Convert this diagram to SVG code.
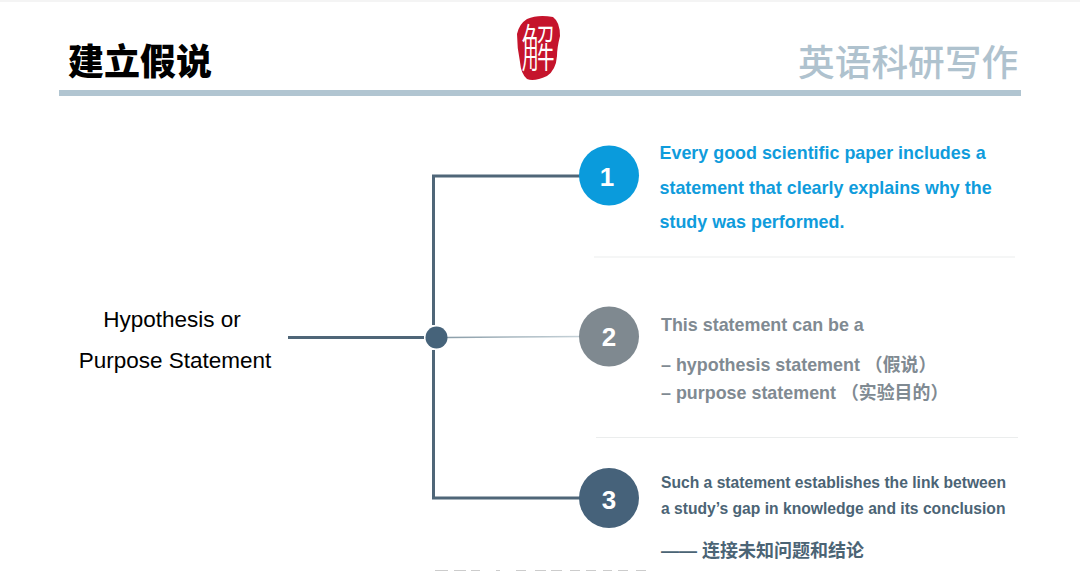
<svg xmlns="http://www.w3.org/2000/svg" width="1080" height="571" viewBox="0 0 1080 571">
<style>
text{font-family:"Liberation Sans","Noto Sans CJK SC",sans-serif}
.cjk{font-family:"Noto Sans CJK SC",sans-serif}
.num{font-size:26px;font-weight:700;fill:#fff;text-anchor:middle}
.blue{font-size:17.9px;fill:#0f9cdc;font-weight:700}
.grey{font-size:17.9px;fill:#808a92;font-weight:700}
.dark{font-size:15.65px;fill:#4b6475;font-weight:700}
.main{font-size:22.5px;fill:#000;text-anchor:middle}
.conn{fill:none;stroke:#4f6678;stroke-width:3}
.rule{stroke:#ebeded;stroke-width:1.2}
</style>
<defs>
<linearGradient id="thin" x1="0" x2="1" y1="0" y2="0"><stop offset="0" stop-color="#8b9ea9"/><stop offset="1" stop-color="#c8d4da"/></linearGradient>
</defs>
<rect width="1080" height="571" fill="#fff"/>
<rect width="1080" height="2" fill="#f4f4f4"/>
<g id="header">
<text class="cjk" x="68" y="75" font-size="36" font-weight="900" fill="#000">建立假说</text>
<text class="cjk" x="798" y="76" font-size="36.7" font-weight="500" fill="#afc2ce">英语科研写作</text>
<rect x="59" y="90" width="962" height="6" fill="#b1c5d1"/>
</g>
<g id="seal">
<path d="M527 19 Q538 14 553 17 Q560 22 560 36 Q557 48 557 56 Q556 70 547 76 Q534 82 527 79 Q521 74 520 62 Q517 48 517 34 Q519 24 527 19Z" fill="#c5142c"/>
<text class="cjk" x="0" y="0" font-size="34" font-weight="300" fill="#fff" text-anchor="middle" transform="translate(538 67) scale(1 1.5)">解</text>
</g>
<g id="connectors">
<path class="conn" d="M288 337.500H424"/>
<path class="conn" d="M433.500 325V176H585"/>
<path class="conn" d="M433.500 350V498H585"/>
<path d="M447 337.500L585 336.500" stroke="url(#thin)" stroke-width="1.500" fill="none"/>
</g>
<g id="hub"><circle cx="436.500" cy="337.500" r="11" fill="#46637a"/></g>
<g id="source">
<text class="main" x="172" y="327">Hypothesis or</text>
<text class="main" x="175" y="368">Purpose Statement</text>
</g>
<g id="node1">
<circle cx="609" cy="175.500" r="30" fill="#0a9bdc"/>
<text class="num" x="607" y="186">1</text>
<text class="blue" x="659.500" y="159">Every good scientific paper includes a</text>
<text class="blue" x="659.500" y="194">statement that clearly explains why the</text>
<text class="blue" x="659.500" y="228">study was performed.</text>
</g>
<line class="rule" x1="594" y1="257" x2="1015" y2="257"/>
<g id="node2">
<circle cx="609" cy="336.500" r="30" fill="#7f8990"/>
<text class="num" x="609" y="346">2</text>
<text class="grey" x="661" y="331">This statement can be a</text>
<text class="grey" x="661" y="371">– hypothesis statement （假说）</text>
<text class="grey" x="661" y="399">– purpose statement （实验目的）</text>
</g>
<line class="rule" x1="596" y1="437.500" x2="1018" y2="437.500"/>
<g id="node3">
<circle cx="609" cy="498" r="30" fill="#46627a"/>
<text class="num" x="609" y="509">3</text>
<text class="dark" x="661" y="488">Such a statement establishes the link between</text>
<text class="dark" x="661" y="514">a study’s gap in knowledge and its conclusion</text>
<text class="dark" x="661" y="557" style="font-size:18px">—— 连接未知问题和结论</text>
</g>
<path d="M435 570.500H448M454 570.500H466M471 570.500H480M496 570.500H500M516 570.500H526M535 570.500H546M551 570.500H562M570 570.500H580M586 570.500H596M603 570.500H612M618 570.500H628M636 570.500H646" stroke="#ccc" stroke-width="1" fill="none"/>
</svg>
